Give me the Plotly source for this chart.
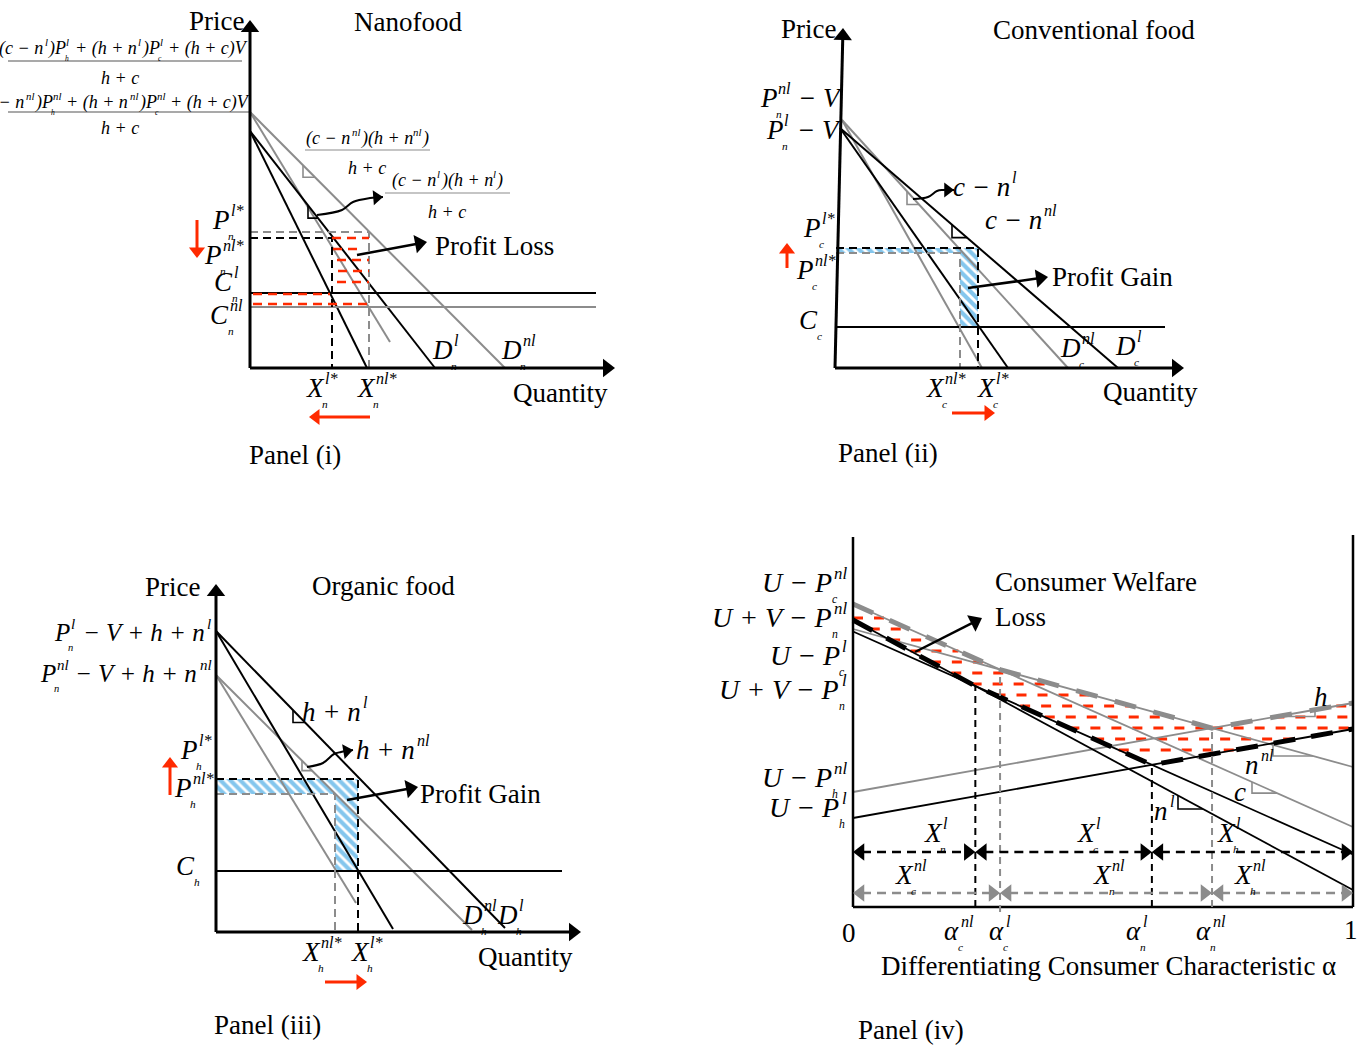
import math
import numpy as np
import plotly.graph_objects as go

W, H = 1358, 1045
FONT = "Liberation Serif"
BLACK = "#000000"
GRAY = "#8c8c8c"
RED = "#ff2a00"
BLUE = "#0a8ddb"
TS = 27   # upright text size
MS = 27   # math label size

# ================= DATA (schematic values) =================
# Panel (i) Nanofood  -- quantity (x) vs price (y), local units
nano_intercept_l = 237
nano_intercept_nl = 256
nano_demand_end_l = [[117, 0], [185, 0]]        # black demand curves (steep, flat)
nano_demand_end_nl = [[140, 26], [255, 0]]      # grey demand curves
nano_cost_l = 75
nano_cost_nl = 61
nano_cost_len = 346
nano_eq_l = [82, 130]       # (X*, P*) with labelling
nano_eq_nl = [119, 136]     # (X*, P*) without labelling
nano_loss_levels = [130, 119, 108, 97, 86, 74, 64]
nano_loss_from = [82, 83, 87, 88, 87, 3, 3]
nano_loss_to = [119, 107, 119, 119, 119, 80, 119]

# Panel (ii) Conventional food
conv_start_l = [5, 240]
conv_start_nl = [7, 248]
conv_demand_end_l = [173, 283]
conv_demand_end_nl = [147, 233]
conv_cost = 41
conv_cost_len = 330
conv_eq_l = [143, 120]
conv_eq_nl = [125, 115]

# Panel (iii) Organic food
org_intercept_l = 301
org_intercept_nl = 257
org_demand_end_l = [[177, 3], [289, 4]]
org_demand_end_nl = [[140, 29], [256, 2]]
org_cost = 61
org_cost_len = 346
org_eq_l = [142, 153]
org_eq_nl = [119, 138]

# Panel (iv) utility lines over alpha in [0, 1]: [value at alpha=0, value at alpha=1]
util_l = {"c": [287, 17], "n": [275.5, 52.5], "h": [89, 178]}
util_nl = {"c": [303, 80], "n": [278, 140], "h": [115, 204]}
welfare_levels = [289, 278, 267, 256, 245, 234, 223, 212, 201, 190, 179, 168, 157]

# ================= helpers =================
AX = {1: ("x", "y"), 2: ("x2", "y2"), 3: ("x3", "y3"), 4: ("x4", "y4")}
SX = {1: 1.0, 2: 1.0, 3: 1.0, 4: 500.0}
PANELS = {
    1: dict(px=(0, 679), py=(0, 480), origin=(250, 368)),
    2: dict(px=(679, 1358), py=(0, 480), origin=(835, 368)),
    3: dict(px=(0, 679), py=(540, 1045), origin=(216, 932)),
    4: dict(px=(679, 1358), py=(520, 1045), origin=(853, 907)),
}
traces, annos = [], []


def seg(p, xs, ys, color=BLACK, width=2, dash="solid", shape="linear"):
    ln = dict(color=color, width=width, dash=dash, shape=shape)
    if shape == "spline":
        ln["smoothing"] = 1.0
    traces.append(go.Scatter(x=list(xs), y=list(ys), xaxis=AX[p][0], yaxis=AX[p][1],
                             mode="lines", line=ln, hoverinfo="skip", showlegend=False,
                             cliponaxis=False))


def head(p, x, y, ux, uy, color=BLACK, size=14):
    r = size / 2.0
    cx = x - ux * r / SX[p]
    cy = y - uy * r
    ang = math.degrees(math.atan2(ux, uy))
    traces.append(go.Scatter(x=[cx], y=[cy], xaxis=AX[p][0], yaxis=AX[p][1], mode="markers",
                             marker=dict(symbol="triangle-up", size=size, color=color, angle=ang,
                                         line=dict(width=0)),
                             hoverinfo="skip", showlegend=False, cliponaxis=False))


def arrow(p, x0, y0, x1, y1, color=BLACK, width=2, size=14, dash="solid"):
    dx = (x1 - x0) * SX[p]
    dy = y1 - y0
    L = math.hypot(dx, dy)
    ux, uy = dx / L, dy / L
    back = 1.2 * size / 2.0
    seg(p, [x0, x1 - ux * back / SX[p]], [y0, y1 - uy * back], color, width, dash)
    head(p, x1, y1, ux, uy, color, size)


def curved_arrow(p, xs, ys, tip, color=BLACK, width=2, size=13):
    seg(p, xs + [tip[0]], ys + [tip[1]], color, width, shape="spline")
    dx = (tip[0] - xs[-1]) * SX[p]
    dy = tip[1] - ys[-1]
    L = math.hypot(dx, dy)
    head(p, tip[0], tip[1], dx / L, dy / L, color, size)


def lval(a, b, x):
    return a[1] + (b[1] - a[1]) * (x - a[0]) / (b[0] - a[0])


def rmark(p, a, b, x0, x1, color):
    y0, y1 = lval(a, b, x0), lval(a, b, x1)
    if y1 < y0:
        seg(p, [x0, x0, x1], [y0, y1, y1], color, 1.6)
    else:
        seg(p, [x0, x1, x1], [y0, y0, y1], color, 1.6)


def txt(p, x, y, s, size=TS, xanchor="center", italic=False, xshift=0, yshift=0, color=BLACK):
    annos.append(dict(x=x, y=y, xref=AX[p][0], yref=AX[p][1],
                      text=("<i>%s</i>" % s) if italic else s, showarrow=False,
                      xanchor=xanchor, yanchor="middle", xshift=xshift, yshift=yshift,
                      borderpad=0, borderwidth=0,
                      font=dict(family=FONT, size=size, color=color)))


CW = {"P": 0.61, "X": 0.61, "C": 0.67, "D": 0.72, "U": 0.72, "V": 0.61, "h": 0.5, "n": 0.5,
      "c": 0.44, "l": 0.28, "*": 0.5, " ": 0.25, "\u2212": 0.68, "+": 0.68, "(": 0.33,
      ")": 0.33, "\u03b1": 0.55}


def tw(s, size):
    return sum(CW.get(ch, 0.5) for ch in s) * size


def mlabel(p, x, y, parts, size=MS, anchor="left"):
    sups, subs = size * 0.6, size * 0.42
    widths = []
    for part in parts:
        if isinstance(part, str):
            widths.append(tw(part, size))
        else:
            widths.append(max(tw(part[0], sups), tw(part[1], subs)) + 0.1 * size)
    total = sum(widths)
    off = {"left": 0.0, "center": -total / 2.0, "right": -total}[anchor]
    for part, w in zip(parts, widths):
        if isinstance(part, str):
            lead = len(part) - len(part.lstrip(" "))
            txt(p, x, y, part.lstrip(" "), size, "left", True, xshift=off + lead * 0.25 * size)
        else:
            sup, sub = part
            if sup:
                txt(p, x, y, sup, sups, "left", True, xshift=off + 0.08 * size, yshift=0.33 * size)
            if sub:
                txt(p, x, y, sub, subs, "left", True, xshift=off - 0.02 * size, yshift=-0.6 * size)
        off += w


def hatch(p, xs, ys):
    traces.append(go.Scatter(x=xs, y=ys, xaxis=AX[p][0], yaxis=AX[p][1], mode="lines",
                             fill="toself", fillcolor="rgba(255,255,255,0)",
                             fillpattern=dict(shape="\\", fgcolor=BLUE, bgcolor="white",
                                              size=7, solidity=0.6),
                             line=dict(width=0), hoverinfo="skip", showlegend=False))


DASH = "8px,5px"

# ================= Panel (i) Nanofood =================
p = 1
for (ex, ey) in nano_demand_end_nl:
    seg(p, [0, ex], [nano_intercept_nl, ey], GRAY, 2)
for (ex, ey) in nano_demand_end_l:
    seg(p, [0, ex], [nano_intercept_l, ey], BLACK, 2)
seg(p, [0, nano_cost_len], [nano_cost_l, nano_cost_l], BLACK, 2)
seg(p, [0, nano_cost_len], [nano_cost_nl, nano_cost_nl], GRAY, 2)
seg(p, [0, nano_eq_nl[0], nano_eq_nl[0]], [nano_eq_nl[1], nano_eq_nl[1], 0], GRAY, 2, DASH)
seg(p, [0, nano_eq_l[0], nano_eq_l[0]], [nano_eq_l[1], nano_eq_l[1], 0], BLACK, 2, DASH)
for lv, a, b in zip(nano_loss_levels, nano_loss_from, nano_loss_to):
    seg(p, [a, b], [lv, lv], RED, 2.5, "9px,6px")
seg(p, [-242, -8], [307, 307], GRAY, 1.3)
seg(p, [-242, 0], [nano_intercept_nl, nano_intercept_nl], GRAY, 1.5)
seg(p, [55, 180], [218, 218], GRAY, 1.2)
seg(p, [135, 260], [175, 175], GRAY, 1.2)
rmark(p, (0, nano_intercept_nl), tuple(nano_demand_end_nl[1]), 53, 65, GRAY)
rmark(p, (0, nano_intercept_l), tuple(nano_demand_end_l[1]), 58, 68, BLACK)
curved_arrow(p, [67, 92, 103, 120], [153, 158, 166, 170], (133, 171))
arrow(p, 107, 113, 177, 126, BLACK, 2.5, 16)
arrow(p, -53, 148, -53, 110, RED, 3, 14)
arrow(p, 120, -49, 59, -49, RED, 3, 14)
arrow(p, 0, 0, 0, 348, BLACK, 3, 16)
arrow(p, 0, 0, 365, 0, BLACK, 3, 16)

txt(p, -34, 347, "Price")
txt(p, 158, 346, "Nanofood")
txt(p, 310, -25, "Quantity")
txt(p, 45, -87, "Panel (i)")
txt(p, 185, 122, "Profit Loss", TS, "left")
mlabel(p, -4, 320, ["(c \u2212 n", ("l", ""), ")P", ("l", "h"), " + (h + n", ("l", ""), ")P",
                    ("l", "c"), " + (h + c)V"], 18, "right")
txt(p, -130, 290, "h + c", 18, italic=True)
mlabel(p, -2, 266, ["(c \u2212 n", ("nl", ""), ")P", ("nl", "h"), " + (h + n", ("nl", ""), ")P",
                    ("nl", "c"), " + (h + c)V"], 18, "right")
txt(p, -130, 240, "h + c", 18, italic=True)
mlabel(p, 117, 230, ["(c \u2212 n", ("nl", ""), ")(h + n", ("nl", ""), ")"], 18, "center")
txt(p, 117, 200, "h + c", 18, italic=True)
mlabel(p, 197, 188, ["(c \u2212 n", ("l", ""), ")(h + n", ("l", ""), ")"], 18, "center")
txt(p, 197, 156, "h + c", 18, italic=True)
mlabel(p, -38, 148, ["P", ("l*", "n")])
mlabel(p, -46, 113, ["P", ("nl*", "n")])
mlabel(p, -36, 86, ["C", ("l", "n")])
mlabel(p, -40, 53, ["C", ("nl", "n")])
mlabel(p, 56, -20, ["X", ("l*", "n")])
mlabel(p, 107, -20, ["X", ("nl*", "n")])
mlabel(p, 182, 18, ["D", ("l", "n")])
mlabel(p, 251, 18, ["D", ("nl", "n")])

# ================= Panel (ii) Conventional food =================
p = 2
hatch(p, [1, conv_eq_l[0], conv_eq_l[0], conv_eq_nl[0], conv_eq_nl[0], 1, 1],
      [conv_eq_l[1], conv_eq_l[1], conv_cost, conv_cost, conv_eq_nl[1], conv_eq_nl[1], conv_eq_l[1]])
for ex in conv_demand_end_nl:
    seg(p, [conv_start_nl[0], ex], [conv_start_nl[1], 0], GRAY, 2)
for ex in conv_demand_end_l:
    seg(p, [conv_start_l[0], ex], [conv_start_l[1], 0], BLACK, 2)
seg(p, [0, conv_cost_len], [conv_cost, conv_cost], BLACK, 2)
seg(p, [1, conv_eq_nl[0], conv_eq_nl[0]], [conv_eq_nl[1], conv_eq_nl[1], 0], GRAY, 2, DASH)
seg(p, [1, conv_eq_l[0], conv_eq_l[0]], [conv_eq_l[1], conv_eq_l[1], 0], BLACK, 2, DASH)
rmark(p, tuple(conv_start_nl), (conv_demand_end_nl[1], 0), 72, 84, GRAY)
rmark(p, tuple(conv_start_l), (conv_demand_end_l[1], 0), 117, 132, BLACK)
curved_arrow(p, [78, 93, 102, 108], [169, 171, 177, 178], (119, 178))
arrow(p, 133, 80, 213, 91, BLACK, 2.5, 16)
arrow(p, -48, 100, -48, 125, RED, 3, 14)
arrow(p, 117, -45, 160, -45, RED, 3, 14)
arrow(p, 0, 0, 8, 340, BLACK, 3, 16)
arrow(p, 0, 0, 349, 0, BLACK, 3, 16)

txt(p, -27, 339, "Price")
txt(p, 259, 338, "Conventional food")
txt(p, 315, -24, "Quantity")
txt(p, 53, -85, "Panel (ii)")
txt(p, 217, 91, "Profit Gain", TS, "left")
mlabel(p, 5, 270, ["P", ("nl", "n"), " \u2212 V"], MS, "right")
mlabel(p, 4, 238, ["P", ("l", "n"), " \u2212 V"], MS, "right")
mlabel(p, -32, 140, ["P", ("l*", "c")])
mlabel(p, -39, 98, ["P", ("nl*", "c")])
mlabel(p, -36, 48, ["C", ("", "c")])
mlabel(p, 91, -20, ["X", ("nl*", "c")])
mlabel(p, 142, -20, ["X", ("l*", "c")])
mlabel(p, 225, 20, ["D", ("nl", "c")])
mlabel(p, 280, 22, ["D", ("l", "c")])
mlabel(p, 118, 181, ["c \u2212 n", ("l", "")])
mlabel(p, 150, 148, ["c \u2212 n", ("nl", "")])

# ================= Panel (iii) Organic food =================
p = 3
hatch(p, [0, org_eq_l[0], org_eq_l[0], org_eq_nl[0], org_eq_nl[0], 0, 0],
      [org_eq_l[1], org_eq_l[1], org_cost, org_cost, org_eq_nl[1], org_eq_nl[1], org_eq_l[1]])
for (ex, ey) in org_demand_end_nl:
    seg(p, [0, ex], [org_intercept_nl, ey], GRAY, 2)
for (ex, ey) in org_demand_end_l:
    seg(p, [0, ex], [org_intercept_l, ey], BLACK, 2)
seg(p, [0, org_cost_len], [org_cost, org_cost], BLACK, 2)
seg(p, [0, org_eq_nl[0], org_eq_nl[0]], [org_eq_nl[1], org_eq_nl[1], 0], GRAY, 2, DASH)
seg(p, [0, org_eq_l[0], org_eq_l[0]], [org_eq_l[1], org_eq_l[1], 0], BLACK, 2, DASH)
rmark(p, (0, org_intercept_l), tuple(org_demand_end_l[1]), 77, 89, BLACK)
rmark(p, (0, org_intercept_nl), tuple(org_demand_end_nl[1]), 86, 96, GRAY)
curved_arrow(p, [91, 107, 118, 125], [165, 169, 178, 180], (137, 182))
arrow(p, 131, 132, 202, 145, BLACK, 2.5, 16)
arrow(p, -46, 137, -46, 175, RED, 3, 14)
arrow(p, 109, -50, 151, -50, RED, 3, 14)
arrow(p, 0, 0, 0, 348, BLACK, 3, 16)
arrow(p, 0, 0, 365, 0, BLACK, 3, 16)

txt(p, -44, 345, "Price")
txt(p, 167, 346, "Organic food")
txt(p, 309, -25, "Quantity")
txt(p, 51, -93, "Panel (iii)")
txt(p, 204, 138, "Profit Gain", TS, "left")
mlabel(p, -4, 300, ["P", ("l", "n"), " \u2212 V + h + n", ("l", "")], 25, "right")
mlabel(p, -4, 259, ["P", ("nl", "n"), " \u2212 V + h + n", ("nl", "")], 25, "right")
mlabel(p, -36, 182, ["P", ("l*", "h")])
mlabel(p, -42, 144, ["P", ("nl*", "h")])
mlabel(p, -40, 66, ["C", ("", "h")])
mlabel(p, 86, -20, ["X", ("nl*", "h")])
mlabel(p, 135, -20, ["X", ("l*", "h")])
mlabel(p, 246, 17, ["D", ("nl", "h")])
mlabel(p, 281, 17, ["D", ("l", "h")])
mlabel(p, 86, 220, ["h + n", ("l", "")])
mlabel(p, 140, 182, ["h + n", ("nl", "")])

# ================= Panel (iv) consumer choice over alpha =================
p = 4


def uval(u, a):
    return u[0] + (u[1] - u[0]) * a


def cross(u, v):
    return (v[0] - u[0]) / ((u[1] - u[0]) - (v[1] - v[0]))


a1_l, a2_l = cross(util_l["c"], util_l["n"]), cross(util_l["n"], util_l["h"])
a1_nl, a2_nl = cross(util_nl["c"], util_nl["n"]), cross(util_nl["n"], util_nl["h"])
env_l_x = [0, a1_l, a2_l, 1]
env_l_y = [uval(util_l["c"], 0), uval(util_l["c"], a1_l), uval(util_l["n"], a2_l), uval(util_l["h"], 1)]
env_nl_x = [0, a1_nl, a2_nl, 1]
env_nl_y = [uval(util_nl["c"], 0), uval(util_nl["c"], a1_nl), uval(util_nl["n"], a2_nl),
            uval(util_nl["h"], 1)]

grid = np.linspace(0, 1, 4001)
g_hi = np.interp(grid, env_nl_x, env_nl_y)
g_lo = np.interp(grid, env_l_x, env_l_y)
rx, ry = [], []
for lv in welfare_levels:
    m = (g_lo <= lv) & (lv <= g_hi)
    idx = np.flatnonzero(m)
    if idx.size == 0:
        continue
    runs = np.split(idx, np.where(np.diff(idx) > 1)[0] + 1)
    for r in runs:
        rx += [grid[r[0]], grid[r[-1]], None]
        ry += [lv, lv, None]
seg(p, rx, ry, RED, 3, "10px,11px")

for k in ("c", "n", "h"):
    seg(p, [0, 1], util_nl[k], GRAY, 1.8)
for k in ("c", "n", "h"):
    seg(p, [0, 1], util_l[k], BLACK, 1.8)
seg(p, env_nl_x, env_nl_y, GRAY, 5, "22px,18px")
seg(p, env_l_x, env_l_y, BLACK, 5, "22px,16px")

seg(p, [0, 0], [0, 370], BLACK, 2.5)
seg(p, [1, 1], [0, 372], BLACK, 2.5)
seg(p, [0, 1], [0, 0], BLACK, 2.5)

seg(p, [a1_l, a1_l], [0, uval(util_l["c"], a1_l)], BLACK, 2, "7px,5px")
seg(p, [a2_l, a2_l], [0, uval(util_l["h"], a2_l)], BLACK, 2, "7px,5px")
seg(p, [a1_nl, a1_nl], [-5, uval(util_nl["c"], a1_nl)], GRAY, 2, "7px,5px")
seg(p, [a2_nl, a2_nl], [0, uval(util_nl["h"], a2_nl)], GRAY, 2, "7px,5px")


def darrow(a0, a1, y, color):
    size = 15
    b = 1.2 * size / 2.0 / 500.0
    seg(4, [a0 + b, a1 - b], [y, y], color, 2.5, "9px,6px")
    head(4, a0, y, -1, 0, color, size)
    head(4, a1, y, 1, 0, color, size)


for a0, a1 in ((0, a1_l), (a1_l, a2_l), (a2_l, 1)):
    darrow(a0, a1, 55, BLACK)
for a0, a1 in ((0, a1_nl), (a1_nl, a2_nl), (a2_nl, 1)):
    darrow(a0, a1, 14, GRAY)

rmark(p, (0, util_nl["h"][0]), (1, util_nl["h"][1]), 0.848, 0.924, GRAY)
rmark(p, (0, util_nl["n"][0]), (1, util_nl["n"][1]), 0.84, 0.92, GRAY)
rmark(p, (0, util_nl["c"][0]), (1, util_nl["c"][1]), 0.798, 0.848, GRAY)
rmark(p, (0, util_l["c"][0]), (1, util_l["c"][1]), 0.65, 0.70, BLACK)

arrow(p, 0.124, 255, 0.258, 289, BLACK, 2.5, 16)

mlabel(p, -0.01, 324, ["U \u2212 P", ("nl", "c")], 28, "right")
mlabel(p, -0.01, 289, ["U + V \u2212 P", ("nl", "n")], 28, "right")
mlabel(p, -0.01, 251, ["U \u2212 P", ("l", "c")], 28, "right")
mlabel(p, -0.01, 217, ["U + V \u2212 P", ("l", "n")], 28, "right")
mlabel(p, -0.01, 129, ["U \u2212 P", ("nl", "h")], 28, "right")
mlabel(p, -0.01, 99, ["U \u2212 P", ("l", "h")], 28, "right")
txt(p, 0.284, 325, "Consumer Welfare", TS, "left")
txt(p, 0.284, 290, "Loss", TS, "left")
mlabel(p, 0.142, 74, ["X", ("l", "n")])
mlabel(p, 0.448, 74, ["X", ("l", "c")])
mlabel(p, 0.728, 74, ["X", ("l", "h")])
mlabel(p, 0.084, 32, ["X", ("nl", "c")])
mlabel(p, 0.48, 32, ["X", ("nl", "n")])
mlabel(p, 0.762, 32, ["X", ("nl", "h")])
mlabel(p, 0.922, 210, ["h"])
mlabel(p, 0.784, 142, ["n", ("nl", "")])
mlabel(p, 0.762, 115, ["c"])
mlabel(p, 0.602, 96, ["n", ("l", "")])
txt(p, -0.008, -26, "0")
txt(p, 0.996, -23, "1")
mlabel(p, 0.182, -24, ["\u03b1", ("nl", "c")])
mlabel(p, 0.272, -24, ["\u03b1", ("l", "c")])
mlabel(p, 0.546, -24, ["\u03b1", ("l", "n")])
mlabel(p, 0.686, -24, ["\u03b1", ("nl", "n")])
txt(p, 0.51, -59, "Differentiating Consumer Characteristic \u03b1")
txt(p, 0.116, -123, "Panel (iv)")

# ================= layout =================
layout = dict(width=W, height=H, margin=dict(l=0, r=0, t=0, b=0), paper_bgcolor="white",
              plot_bgcolor="white", showlegend=False, annotations=annos)
for k, P in PANELS.items():
    ox, oy = P["origin"]
    s = "" if k == 1 else str(k)
    layout["xaxis" + s] = dict(domain=[P["px"][0] / W, P["px"][1] / W],
                               range=[(P["px"][0] - ox) / SX[k], (P["px"][1] - ox) / SX[k]],
                               visible=False, anchor="y" + s, fixedrange=True)
    layout["yaxis" + s] = dict(domain=[1 - P["py"][1] / H, 1 - P["py"][0] / H],
                               range=[oy - P["py"][1], oy - P["py"][0]],
                               visible=False, anchor="x" + s, fixedrange=True)

fig = go.Figure(data=traces, layout=layout)
fig.write_html("out.html")
